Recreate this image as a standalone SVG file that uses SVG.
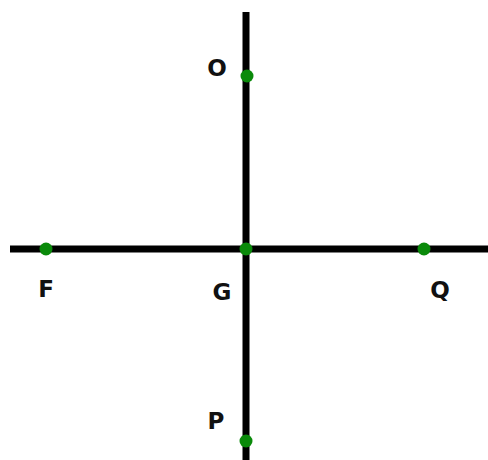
<svg xmlns="http://www.w3.org/2000/svg" width="488" height="460" viewBox="0 0 488 460">
<style>
.ln{stroke:#000;stroke-width:7;fill:none}
.pt{fill:#0a8a0a}
.lb{font-family:"DejaVu Sans",sans-serif;font-weight:bold;font-size:23px;fill:#111;text-anchor:middle}
</style>
<rect width="488" height="460" fill="#fff"/>
<g id="connectors">
<line class="ln" x1="246" y1="12" x2="246" y2="460"/>
<line class="ln" x1="10" y1="249" x2="488" y2="249"/>
</g>
<g id="O"><circle class="pt" cx="247" cy="76" r="6.5"/><text class="lb" x="217" y="76">O</text></g>
<g id="F"><circle class="pt" cx="46" cy="249" r="6.5"/><text class="lb" x="46" y="297">F</text></g>
<g id="G"><circle class="pt" cx="246" cy="249" r="6.5"/><text class="lb" x="222" y="300">G</text></g>
<g id="Q"><circle class="pt" cx="424" cy="249" r="6.5"/><text class="lb" x="440" y="298">Q</text></g>
<g id="P"><circle class="pt" cx="246" cy="441" r="6.5"/><text class="lb" x="216" y="429">P</text></g>
</svg>
